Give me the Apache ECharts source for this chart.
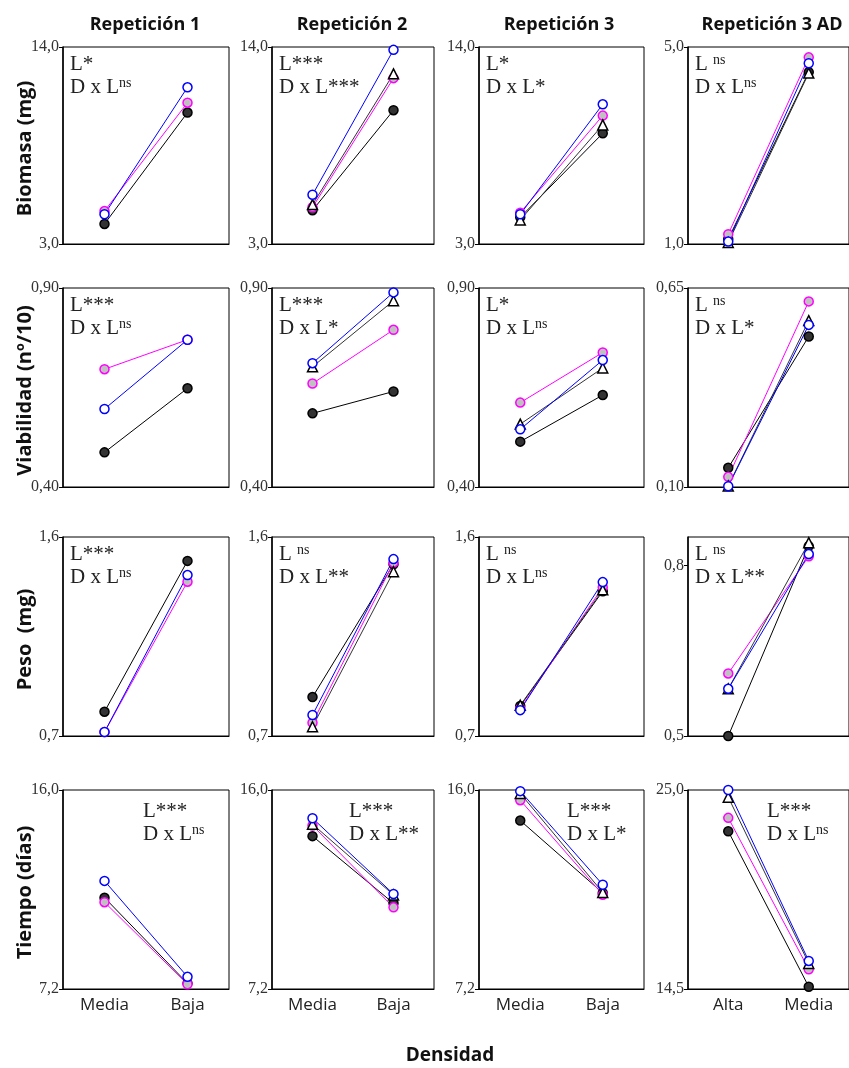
<!DOCTYPE html>
<html>
<head>
<meta charset="utf-8">
</head>
<body style="margin: 0">
<div id="container" style="width: 849px; height: 1068px"></div>
<script src="https://cdn.jsdelivr.net/npm/echarts@6/dist/echarts.min.js"></script>
<script>
var densidad = ['Media', 'Baja'];
var densidadAD = ['Alta', 'Media'];
var repeticiones = ['Repetición 1', 'Repetición 2', 'Repetición 3', 'Repetición 3 AD'];
var variables = ['Biomasa (mg)', 'Viabilidad (nº/10)', 'Peso  (mg)', 'Tiempo (días)'];

// en cada panel: negro, magenta, triángulo, azul
var biomasaRep1 = [[4.12, 10.34], [4.84, 10.89], null, [4.66, 11.75]];
var biomasaRep2 = [[4.88, 10.47], [5.05, 12.26], [5.2, 12.5], [5.75, 13.84]];
var biomasaRep3 = [[4.49, 9.18], [4.75, 10.17], [4.34, 9.65], [4.66, 10.8]];
var biomasaRep3AD = [[1.1, 4.49], [1.2, 4.79], [1.03, 4.47], [1.05, 4.67]];

var viabilidadRep1 = [[0.487, 0.648], [0.696, 0.77], null, [0.596, 0.77]];
var viabilidadRep2 = [[0.585, 0.64], [0.66, 0.795], [0.702, 0.868], [0.711, 0.889]];
var viabilidadRep3 = [[0.514, 0.631], [0.612, 0.738], [0.558, 0.699], [0.545, 0.719]];
var viabilidadRep3AD = [[0.153, 0.516], [0.128, 0.613], [0.103, 0.56], [0.102, 0.548]];

var pesoRep1 = [[0.81, 1.492], [0.718, 1.398], null, [0.718, 1.428]];
var pesoRep2 = [[0.876, 1.477], [0.76, 1.484], [0.742, 1.443], [0.795, 1.5]];
var pesoRep3 = [[0.836, 1.355], [0.824, 1.373], [0.839, 1.361], [0.817, 1.396]];
var pesoRep3AD = [[0.5, 0.834], [0.61, 0.816], [0.583, 0.84], [0.583, 0.82]];

var tiempoRep1 = [[11.24, 7.45], [11.04, 7.41], null, [11.98, 7.74]];
var tiempoRep2 = [[13.96, 10.99], [14.43, 10.81], [14.49, 11.36], [14.75, 11.4]];
var tiempoRep3 = [[14.65, 11.45], [15.55, 11.37], [15.85, 11.47], [15.95, 11.81]];
var tiempoRep3AD = [[22.82, 14.62], [23.53, 15.54], [24.62, 15.85], [25.0, 15.98]];

// rango del eje y y marcas
var biomasaRango = [3.0, 14.0], biomasaRangoAD = [1.0, 5.0];
var viabilidadRango = [0.40, 0.90], viabilidadRangoAD = [0.10, 0.65];
var pesoRango = [0.7, 1.6], pesoRangoAD = [0.5, 0.85];
var tiempoRango = [7.2, 16.0], tiempoRangoAD = [14.5, 25.0];
var pesoMarcasAD = [0.5, 0.8];

var biomasaTextos = [['L*', 'D x L{s|ns}'], ['L***', 'D x L***'], ['L*', 'D x L*'], ['L {s|ns}', 'D x L{s|ns}']];
var viabilidadTextos = [['L***', 'D x L{s|ns}'], ['L***', 'D x L*'], ['L*', 'D x L{s|ns}'], ['L {s|ns}', 'D x L*']];
var pesoTextos = [['L***', 'D x L{s|ns}'], ['L {s|ns}', 'D x L**'], ['L {s|ns}', 'D x L{s|ns}'], ['L {s|ns}', 'D x L**']];
var tiempoTextos = [['L***', 'D x L{s|ns}'], ['L***', 'D x L**'], ['L***', 'D x L*'], ['L***', 'D x L{s|ns}']];

var filas = [
    {datos: [biomasaRep1, biomasaRep2, biomasaRep3, biomasaRep3AD], rango: [biomasaRango, biomasaRango, biomasaRango, biomasaRangoAD], textos: biomasaTextos, dec: 1},
    {datos: [viabilidadRep1, viabilidadRep2, viabilidadRep3, viabilidadRep3AD], rango: [viabilidadRango, viabilidadRango, viabilidadRango, viabilidadRangoAD], textos: viabilidadTextos, dec: 2},
    {datos: [pesoRep1, pesoRep2, pesoRep3, pesoRep3AD], rango: [pesoRango, pesoRango, pesoRango, pesoRangoAD], marcasAD: pesoMarcasAD, textos: pesoTextos, dec: 1},
    {datos: [tiempoRep1, tiempoRep2, tiempoRep3, tiempoRep3AD], rango: [tiempoRango, tiempoRango, tiempoRango, tiempoRangoAD], textos: tiempoTextos, dec: 1, derecha: true}
];

var colLeft = [63, 272, 479, 688], colWidth = [166, 162, 165, 164];
var rowTop = [47, 288, 537, 790], rowHeight = [197, 199, 199, 199];
var textoDerecha = [80, 77, 88, 79];

var estilos = [
    {line: '#000', symbol: 'circle', fill: '#333', border: '#000', size: 9},
    {line: '#ff00ff', symbol: 'circle', fill: '#c0c0c0', border: '#ff00ff', size: 9},
    {line: '#333', symbol: 'triangle', fill: '#fff', border: '#000', size: 10},
    {line: '#0000ff', symbol: 'circle', fill: '#fff', border: '#0000ff', size: 9}
];

var dom = document.getElementById('container');
var myChart = echarts.init(dom);

var grid = [], xAxis = [], yAxis = [], series = [], title = [], graphic = [];

filas.forEach(function (fila, r) {
    for (var c = 0; c < 4; c++) {
        var idx = r * 4 + c;
        var rango = fila.rango[c];
        var marcas = (c === 3 && fila.marcasAD) ? fila.marcasAD : rango;
        grid.push({
            left: colLeft[c], top: rowTop[r], width: colWidth[c], height: rowHeight[r],
            show: true, borderColor: '#000', borderWidth: 1, backgroundColor: 'transparent'
        });
        xAxis.push({
            gridIndex: idx, type: 'category', data: c === 3 ? densidadAD : densidad,
            boundaryGap: true,
            axisLine: {lineStyle: {color: '#000', width: 1}},
            axisTick: {show: false},
            axisLabel: {show: r === 3, margin: 8, fontFamily: 'Open Sans', fontSize: 17, color: '#222'}
        });
        yAxis.push({
            gridIndex: idx, type: 'value', min: rango[0], max: rango[1],
            splitLine: {show: false},
            axisLine: {show: true, lineStyle: {color: '#000', width: 1.5}},
            axisTick: {show: true, length: 4, customValues: marcas, lineStyle: {color: '#000'}},
            axisLabel: {
                customValues: marcas, margin: 4,
                fontFamily: 'Liberation Serif', fontSize: 16, color: '#333',
                formatter: (function (d) {
                    return function (v) { return v.toFixed(d).replace('.', ','); };
                })(fila.dec)
            }
        });
        fila.datos[c].forEach(function (valores, s) {
            if (!valores) return;
            var e = estilos[s];
            series.push({
                type: 'line', xAxisIndex: idx, yAxisIndex: idx,
                data: valores, symbol: e.symbol, symbolSize: e.size,
                showAllSymbol: true, clip: false, animation: false,
                lineStyle: {color: e.line, width: 1},
                itemStyle: {color: e.fill, borderColor: e.border, borderWidth: 1.5}
            });
        });
        var t = fila.textos[c];
        title.push({
            left: fila.derecha ? colLeft[c] + textoDerecha[c] : colLeft[c] + 7,
            top: fila.derecha ? rowTop[r] + 10 : rowTop[r] + 6,
            padding: 0,
            text: t[0] + '\n' + t[1],
            textStyle: {
                fontFamily: 'Liberation Serif', fontSize: 21, fontWeight: 'normal',
                color: '#222', lineHeight: 23,
                rich: {s: {fontFamily: 'Liberation Serif', fontSize: 14, verticalAlign: 'top', lineHeight: 23, color: '#222'}}
            }
        });
    }
    // nombre de la variable, girado
    graphic.push({
        type: 'text', x: 25, y: rowTop[r] + rowHeight[r] / 2 + 3, rotation: Math.PI / 2,
        style: {
            text: variables[r], align: 'center', verticalAlign: 'middle',
            font: 'bold 20px "Open Sans"', fill: '#111'
        }
    });
});

var tituloX = [145, 352, 559, 772];
repeticiones.forEach(function (rep, c) {
    title.push({
        left: tituloX[c], top: 16, textAlign: 'center', padding: 0, text: rep,
        textStyle: {fontFamily: 'Open Sans', fontWeight: 'bold', fontSize: 18, color: '#111'}
    });
});
title.push({
    left: 450, top: 1046, textAlign: 'center', padding: 0, text: 'Densidad',
    textStyle: {fontFamily: 'Open Sans', fontWeight: 'bold', fontSize: 19, color: '#111'}
});

var option = {
    animation: false,
    backgroundColor: '#fff',
    title: title,
    graphic: graphic,
    grid: grid,
    xAxis: xAxis,
    yAxis: yAxis,
    series: series
};
myChart.setOption(option);
</script>
</body>
</html>
